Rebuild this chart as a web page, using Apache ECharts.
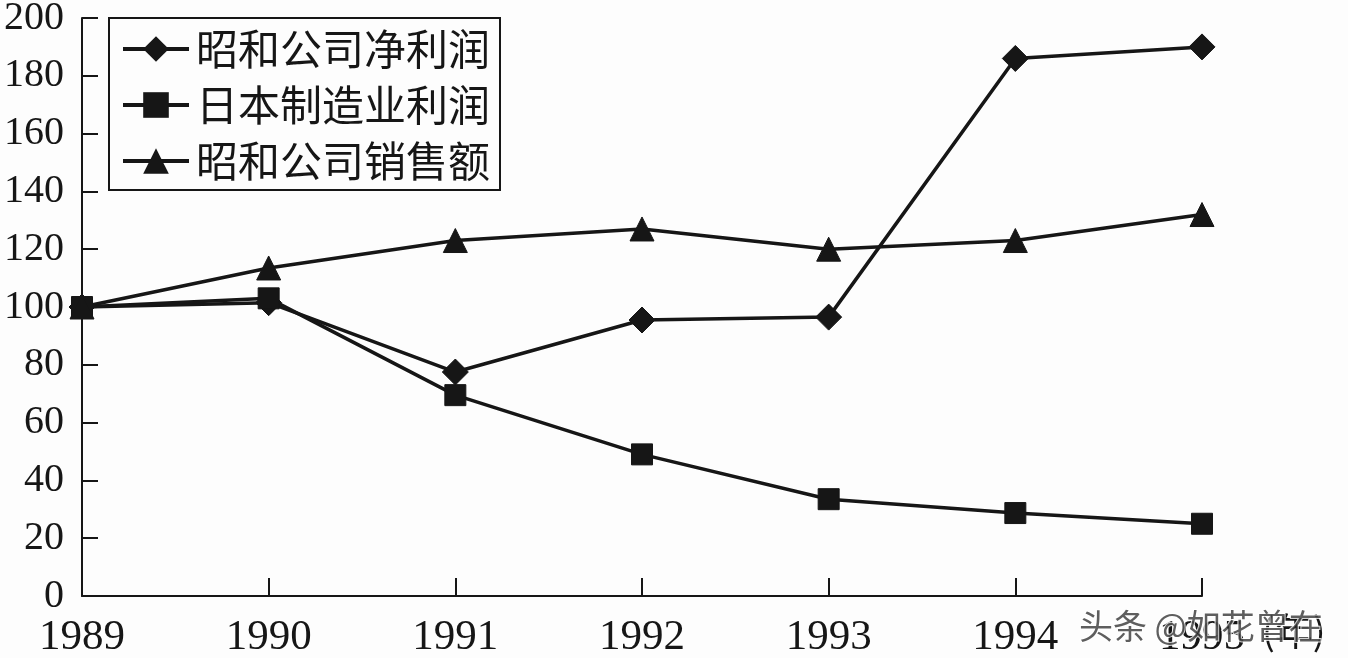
<!DOCTYPE html>
<html lang="zh">
<head>
  <meta charset="UTF-8">
  <title>昭和公司利润与销售额</title>
  <script src="https://cdn.jsdelivr.net/npm/echarts@6/dist/echarts.min.js"></script>
  <style>
    html, body { margin: 0; padding: 0; background: #fdfdfd; }
    #main { width: 1348px; height: 658px; }
  </style>
</head>
<body>
  <div id="main"></div>
  <script>
    // 数据（1989 = 100）
    var years = ['1989', '1990', '1991', '1992', '1993', '1994', '1995'];
    var netProfit = [100, 101.5, 77.5, 95.5, 96.5, 186, 190];     // 昭和公司净利润
    var mfgProfit = [100, 103, 69.5, 49, 33.5, 28.7, 25];         // 日本制造业利润
    var sales = [100, 113.5, 123, 127, 120, 123, 132];            // 昭和公司销售额
    var names = ['昭和公司净利润', '日本制造业利润', '昭和公司销售额'];

    var ink = '#161616';
    var cjk = '"Noto Sans CJK SC", sans-serif';
    var serif = '"Liberation Serif", "DejaVu Serif", serif';

    function mkSeries(name, data, symbol, size) {
      return {
        name: name,
        type: 'line',
        data: data,
        symbol: symbol,
        symbolSize: size,
        showAllSymbol: true,
        lineStyle: { color: ink, width: 3.5 },
        itemStyle: { color: ink, borderColor: ink },
        emphasis: { disabled: true },
        z: 3
      };
    }

    var myChart = echarts.init(document.getElementById('main'), null, { renderer: 'canvas' });

    var option = {
      backgroundColor: '#fdfdfd',
      animation: false,
      grid: { left: 82, right: 146, top: 18, bottom: 62, containLabel: false, outerBoundsMode: 'none' },
      legend: {
        data: names,
        orient: 'vertical',
        left: 109,
        top: 18,
        padding: [10, 10, 8, 12],
        itemGap: 14,
        itemWidth: 66,
        itemHeight: 32,
        lineStyle: { width: 4 },
        borderColor: ink,
        borderWidth: 2,
        textStyle: { color: ink, fontSize: 42, fontFamily: cjk, padding: [0, 0, 0, 2] }
      },
      xAxis: {
        type: 'category',
        data: years,
        boundaryGap: false,
        name: '(年)',
        nameLocation: 'end',
        nameGap: 60,
        nameTextStyle: { color: ink, fontSize: 38, fontFamily: cjk, verticalAlign: 'top', padding: [16, 0, 0, 0] },
        axisLine: { lineStyle: { color: ink, width: 2 } },
        axisTick: { inside: true, length: 18, lineStyle: { color: ink, width: 2 }, alignWithLabel: true },
        axisLabel: { color: ink, fontSize: 43, fontFamily: serif, margin: 20 },
        splitLine: { show: false }
      },
      yAxis: {
        type: 'value',
        min: 0,
        max: 200,
        interval: 20,
        axisLine: { show: true, lineStyle: { color: ink, width: 2 } },
        axisTick: { show: true, inside: true, length: 16, lineStyle: { color: ink, width: 2 } },
        axisLabel: { color: ink, fontSize: 40, fontFamily: serif, margin: 18 },
        splitLine: { show: false }
      },
      graphic: [{
        type: 'text',
        left: 1078,
        top: 608,
        z: 100,
        style: {
          text: '头条 @如花曾在',
          font: '34px "Noto Sans CJK SC", sans-serif',
          fill: 'rgba(40,40,40,0.75)',
          stroke: 'rgba(255,255,255,0.8)',
          lineWidth: 2
        }
      }],
      series: [
        mkSeries(names[0], netProfit, 'diamond', 26),
        mkSeries(names[1], mfgProfit, 'rect', 21),
        mkSeries(names[2], sales, 'triangle', 24)
      ]
    };

    myChart.setOption(option);
  </script>
</body>
</html>
